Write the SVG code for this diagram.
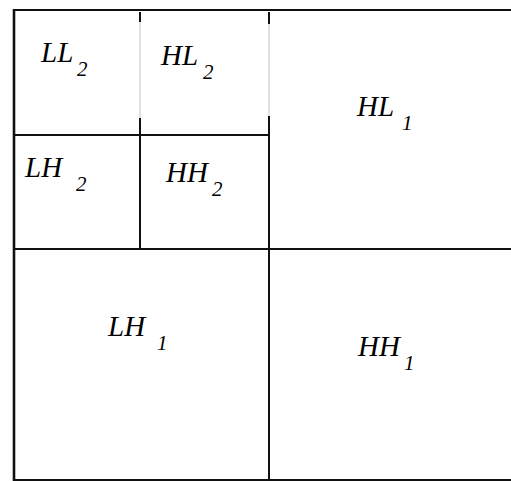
<svg xmlns="http://www.w3.org/2000/svg" width="511" height="481" viewBox="0 0 511 481">
<style>
.ln{stroke:#111;stroke-width:2;fill:none}
.gl{stroke:#c4c4c4;stroke-width:1;fill:none}
.lb{font-family:"Liberation Serif","Times New Roman",serif;font-style:italic;font-size:29px;fill:#000}
.sb{font-size:21px}
</style>
<rect width="511" height="481" fill="#fff"/>
<g id="connectors">
<line class="ln" x1="13" y1="10" x2="511" y2="10"/>
<line class="ln" x1="14" y1="9" x2="14" y2="481" style="stroke-width:2.6"/>
<line class="ln" x1="13" y1="480" x2="511" y2="480"/>
<line class="ln" x1="14" y1="249" x2="511" y2="249"/>
<line class="ln" x1="14" y1="135" x2="269" y2="135"/>
<line class="ln" x1="269" y1="12" x2="269" y2="24"/>
<line class="gl" x1="269" y1="24" x2="269" y2="116"/>
<line class="ln" x1="269" y1="116" x2="269" y2="481"/>
<line class="ln" x1="140" y1="12" x2="140" y2="22"/>
<line class="gl" x1="140" y1="22" x2="140" y2="118"/>
<line class="ln" x1="140" y1="118" x2="140" y2="249"/>
</g>
<g id="LL2"><text class="lb" x="41" y="62">LL<tspan class="sb" x="77" y="76">2</tspan></text></g>
<g id="HL2"><text class="lb" x="161" y="65">HL<tspan class="sb" x="203" y="79">2</tspan></text></g>
<g id="LH2"><text class="lb" x="25" y="177">LH<tspan class="sb" x="76" y="191">2</tspan></text></g>
<g id="HH2"><text class="lb" x="166" y="182">HH<tspan class="sb" x="212" y="196">2</tspan></text></g>
<g id="HL1"><text class="lb" x="357" y="116">HL<tspan class="sb" x="402" y="130">1</tspan></text></g>
<g id="LH1"><text class="lb" x="108" y="336">LH<tspan class="sb" x="157" y="350">1</tspan></text></g>
<g id="HH1"><text class="lb" x="358" y="356">HH<tspan class="sb" x="404" y="370">1</tspan></text></g>
</svg>
